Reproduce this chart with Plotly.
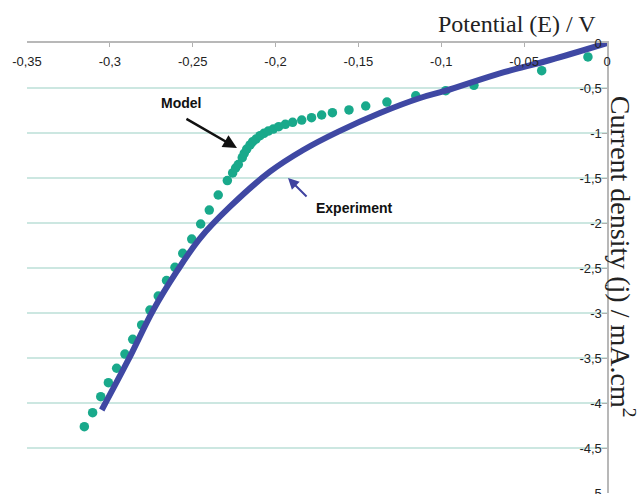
import plotly.graph_objects as go

# Experiment (solid line)
exp_E = [-0.3049, -0.2889, -0.2738, -0.2597, -0.2456, -0.2275, -0.2034, -0.1833, -0.1621,
         -0.137, -0.1128, -0.0973, -0.0646, -0.0344, 0.0]
exp_j = [-4.078, -3.522, -2.967, -2.541, -2.17, -1.819, -1.43, -1.189, -0.985,
         -0.778, -0.611, -0.53, -0.337, -0.189, 0.0]

# Model (dots)
model_E = [-0.3154, -0.3104, -0.3055, -0.3009, -0.2959, -0.2909, -0.2862, -0.2808, -0.2758, -0.2708,
           -0.2658, -0.2607, -0.2560, -0.2506, -0.2452, -0.2400, -0.2346, -0.2291, -0.2259, -0.2241,
           -0.2225, -0.2201, -0.2189, -0.2174, -0.2154, -0.2138, -0.2118, -0.2094, -0.2070, -0.2044,
           -0.2014, -0.1981, -0.1941, -0.1897, -0.1842, -0.1783, -0.1722, -0.1657, -0.1557, -0.1456,
           -0.1328, -0.1154, -0.0973, -0.0803, -0.0394, -0.0115]
model_j = [-4.263, -4.108, -3.930, -3.774, -3.614, -3.456, -3.292, -3.133, -2.967, -2.811,
           -2.639, -2.492, -2.337, -2.178, -2.011, -1.856, -1.689, -1.528, -1.444, -1.389,
           -1.350, -1.274, -1.226, -1.178, -1.133, -1.097, -1.067, -1.030, -1.003, -0.978,
           -0.956, -0.930, -0.903, -0.881, -0.856, -0.830, -0.800, -0.774, -0.744, -0.700,
           -0.656, -0.586, -0.530, -0.470, -0.308, -0.155]

x_ticks = [-0.35, -0.3, -0.25, -0.2, -0.15, -0.1, -0.05, 0]
x_labels = ["-0,35", "-0,3", "-0,25", "-0,2", "-0,15", "-0,1", "-0,05", "0"]
y_ticks = [0, -0.5, -1, -1.5, -2, -2.5, -3, -3.5, -4, -4.5, -5]
y_labels = ["0", "-0,5", "-1", "-1,5", "-2", "-2,5", "-3", "-3,5", "-4", "-4,5", "-5"]

fig = go.Figure()
fig.add_trace(go.Scatter(x=model_E, y=model_j, mode="markers",
                         marker=dict(size=9.5, color="#19a98b"), name="Model",
                         showlegend=False))
fig.add_trace(go.Scatter(x=exp_E, y=exp_j, mode="lines",
                         line=dict(color="#3f48a3", width=6, shape="spline", smoothing=1.0),
                         name="Experiment", showlegend=False))

tickfont = dict(family="Liberation Sans, Arial, sans-serif", size=13, color="#222222")

fig.update_xaxes(range=[-0.35, 0], side="top", tickvals=x_ticks, ticktext=x_labels,
                 ticklabelposition="inside", ticklabeloverflow="allow", ticklabelstandoff=10,
                 ticks="inside", ticklen=4, tickcolor="#b0b0b0",
                 showline=True, linecolor="#b8b8b8", linewidth=1.5,
                 showgrid=False, zeroline=False, tickfont=tickfont, automargin=False)
fig.update_yaxes(range=[-5, 0], side="right", tickvals=y_ticks, ticktext=y_labels,
                 ticklabelposition="inside", ticklabeloverflow="allow",
                 ticks="inside", ticklen=5, tickcolor="#b0b0b0",
                 showline=True, linecolor="#b8b8b8", linewidth=1.5,
                 showgrid=True, gridcolor="#cce7e1", gridwidth=1.5,
                 zeroline=False, tickfont=tickfont, automargin=False)

serif = "Liberation Serif, Times New Roman, serif"
annfont = dict(family="Liberation Sans, Arial, sans-serif", size=14, color="#111111")
fig.update_layout(
    width=640, height=494,
    margin=dict(l=27, r=33, t=43, b=1),
    plot_bgcolor="white", paper_bgcolor="white",
    annotations=[
        dict(text="Potential (E) / V", xref="paper", yref="paper", x=0.845, y=1.0,
             xanchor="center", yanchor="bottom", yshift=4, showarrow=False,
             font=dict(family=serif, size=24, color="#222222")),
        dict(text="Current density (j) / mA.cm<sup>2</sup>", xref="paper", yref="paper",
             x=1.0265, y=0.524, xanchor="center", yanchor="middle", textangle=90,
             showarrow=False, font=dict(family=serif, size=28, color="#222222")),
        dict(text="<b>Model</b>", x=-0.2571, y=-0.667, xref="x", yref="y",
             showarrow=False, font=annfont),
        dict(text="", x=-0.2233, y=-1.167, ax=-0.2547, ay=-0.833, xref="x", yref="y",
             axref="x", ayref="y", showarrow=True, arrowhead=2, arrowsize=1.1,
             arrowwidth=2.5, arrowcolor="#111111"),
        dict(text="<b>Experiment</b>", x=-0.1521, y=-1.833, xref="x", yref="y",
             showarrow=False, font=annfont),
        dict(text="", x=-0.1925, y=-1.5, ax=-0.1804, ay=-1.722, xref="x", yref="y",
             axref="x", ayref="y", showarrow=True, arrowhead=2, arrowsize=1.1,
             arrowwidth=2, arrowcolor="#3f42a0"),
    ],
)

fig.write_html("out.html")
